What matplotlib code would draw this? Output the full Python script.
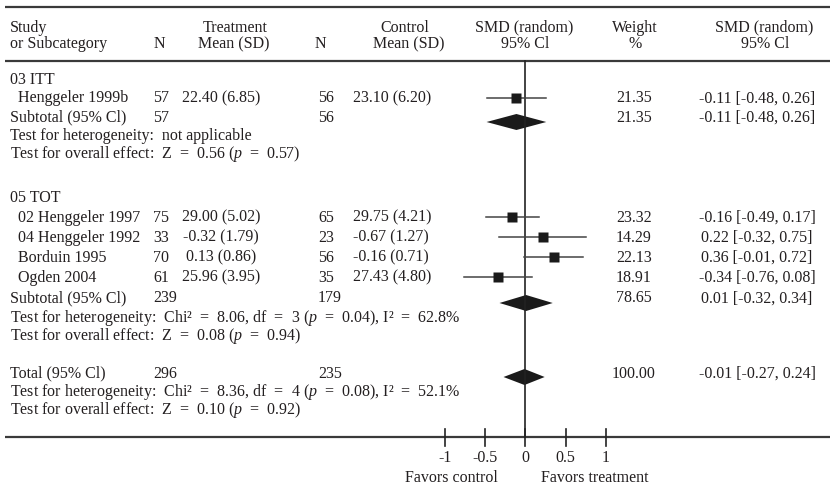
import matplotlib.pyplot as plt
from matplotlib.patches import Polygon

# данные
studies = ['Henggeler 1999b', '02 Henggeler 1997', '04 Henggeler 1992',
           'Borduin 1995', 'Ogden 2004']
n_treat = [57, 75, 33, 70, 61]
mean_treat = ['22.40 (6.85)', '29.00 (5.02)', '-0.32 (1.79)', '0.13 (0.86)', '25.96 (3.95)']
n_ctrl = [56, 65, 23, 56, 35]
mean_ctrl = ['23.10 (6.20)', '29.75 (4.21)', '-0.67 (1.27)', '-0.16 (0.71)', '27.43 (4.80)']
smd = [-0.11, -0.16, 0.22, 0.36, -0.34]
smd_lo = [-0.48, -0.49, -0.32, -0.01, -0.76]
smd_hi = [0.26, 0.17, 0.75, 0.72, 0.08]
weight = [21.35, 23.32, 14.29, 22.13, 18.91]

groups = ['03 ITT', '05 TOT']
sub_n_treat = [57, 239]
sub_n_ctrl = [56, 179]
sub_smd = [-0.11, 0.01]
sub_lo = [-0.48, -0.32]
sub_hi = [0.26, 0.34]
sub_weight = [21.35, 78.65]
sub_het = ['Test for heterogeneity:  not applicable',
           'Test for heterogeneity:  Chi\u00b2 = 8.06, df = 3 ($p$ = 0.04), I\u00b2 = 62.8%']
sub_z = ['Test for overall effect:  Z = 0.56 ($p$ = 0.57)',
         'Test for overall effect:  Z = 0.08 ($p$ = 0.94)']

total_n_treat = 296
total_n_ctrl = 235
total_smd, total_lo, total_hi = -0.01, -0.27, 0.24
total_weight = 100.00
total_het = 'Test for heterogeneity:  Chi\u00b2 = 8.36, df = 4 ($p$ = 0.08), I\u00b2 = 52.1%'
total_z = 'Test for overall effect:  Z = 0.10 ($p$ = 0.92)'

ticks = [-1, -0.5, 0, 0.5, 1]
tick_labels = ['-1', '-0.5', '0', '0.5', '1']

# строки (пиксели по вертикали, середина строки)
study_y = [98, 217, 237, 257, 277]
group_y = [79, 197]
sub_y = [117, 298]
het_y = [136, 317]
z_y = [154, 336]
total_y = 373

plt.rcParams['font.family'] = ['Liberation Serif', 'DejaVu Serif']
plt.rcParams['mathtext.fontset'] = 'custom'
plt.rcParams['mathtext.rm'] = 'Liberation Serif'
plt.rcParams['mathtext.it'] = 'Liberation Serif:italic'

W, H = 830, 488
fs = 11.5
tc = '#231f20'
lc = '#3a3a3a'
base = 4.5  # от середины строки до базовой линии

fig = plt.figure(figsize=(W / 100, H / 100), dpi=100)
ax_t = fig.add_axes([0, 0, 1, 1])
ax_t.set_xlim(0, W)
ax_t.set_ylim(H, 0)
ax_t.axis('off')

# ось SMD: 0 на 525 px, 80.7 px на единицу
x0, scale = 525.3, 80.7
ax = fig.add_axes([0, 0, 1, 1], facecolor='none')
ax.set_xlim(-x0 / scale, (W - x0) / scale)
ax.set_ylim(H, 0)
ax.axis('off')


def wide(s):
    # в оригинале знак "=" с широкими пробелами
    return s.replace(' = ', '  =  ')


def txt(x, y, s, ha='left', a=None):
    a = a or ax_t
    a.text(x, y + base, wide(s), ha=ha, va='baseline', fontsize=fs, color=tc)


# заголовок
txt(10, 27, 'Study')
txt(10, 44, 'or Subcategory')
txt(159, 44, 'N', 'center')
txt(235, 27, 'Treatment', 'center')
txt(234, 44, 'Mean (SD)', 'center')
txt(320, 44, 'N', 'center')
txt(405, 27, 'Control', 'center')
txt(409, 44, 'Mean (SD)', 'center')
txt(524, 27, 'SMD (random)', 'center')
txt(525, 44, '95% Cl', 'center')
txt(635, 27, 'Weight', 'center')
txt(635, 44, '%', 'center')
txt(764, 27, 'SMD (random)', 'center')
txt(765, 44, '95% Cl', 'center')

for rule_y in [7, 61, 437]:
    ax_t.plot([5, W], [rule_y, rule_y], color=lc, lw=1.6, solid_capstyle='butt')

# нулевая линия
ax.plot([0, 0], [61, 437], color='#222222', lw=1.2)

# исследования
for i in range(len(studies)):
    y = study_y[i]
    txt(18, y, studies[i])
    txt(153, y, str(n_treat[i]))
    txt(221, y, mean_treat[i], 'center')
    txt(318, y, str(n_ctrl[i]))
    txt(353, y, mean_ctrl[i])
    txt(634, y, '%.2f' % weight[i], 'center')
    txt(757, y, '%.2f [%.2f, %.2f]' % (smd[i], smd_lo[i], smd_hi[i]), 'center')
    ax.plot([smd_lo[i], smd_hi[i]], [y, y], color='#444444', lw=1.1)
    ax.plot(smd[i], y, 's', color='#1a1a1a', ms=7, mec='none')


def diamond(c, lo, hi, y):
    h = 8
    ax.add_patch(Polygon([(lo, y), (c, y - h), (hi, y), (c, y + h)],
                         closed=True, color='#1a1a1a', lw=0))


# подгруппы
for g in range(len(groups)):
    txt(10, group_y[g], groups[g])
    y = sub_y[g]
    txt(10, y, 'Subtotal (95% Cl)')
    txt(153, y, str(sub_n_treat[g]))
    txt(318, y, str(sub_n_ctrl[g]))
    txt(634, y, '%.2f' % sub_weight[g], 'center')
    txt(757, y, '%.2f [%.2f, %.2f]' % (sub_smd[g], sub_lo[g], sub_hi[g]), 'center')
    diamond(sub_smd[g], sub_lo[g], sub_hi[g], y + 5)
    txt(10, het_y[g], sub_het[g])
    txt(10, z_y[g], sub_z[g])

# итог
txt(10, total_y, 'Total (95% Cl)')
txt(153, total_y, str(total_n_treat))
txt(318, total_y, str(total_n_ctrl))
txt(634, total_y, '%.2f' % total_weight, 'center')
txt(757, total_y, '%.2f [%.2f, %.2f]' % (total_smd, total_lo, total_hi), 'center')
diamond(total_smd, total_lo, total_hi, total_y + 4)
txt(10, total_y + 19, total_het)
txt(10, total_y + 37, total_z)

# шкала
for t, lab in zip(ticks, tick_labels):
    ax.plot([t, t], [429, 446], color='#222222', lw=1.2)
    txt(t, 458, lab, 'center', ax)
txt(-0.92, 478, 'Favors control', 'center', ax)
txt(0.86, 478, 'Favors treatment', 'center', ax)

fig.savefig('out.png', dpi=100)
